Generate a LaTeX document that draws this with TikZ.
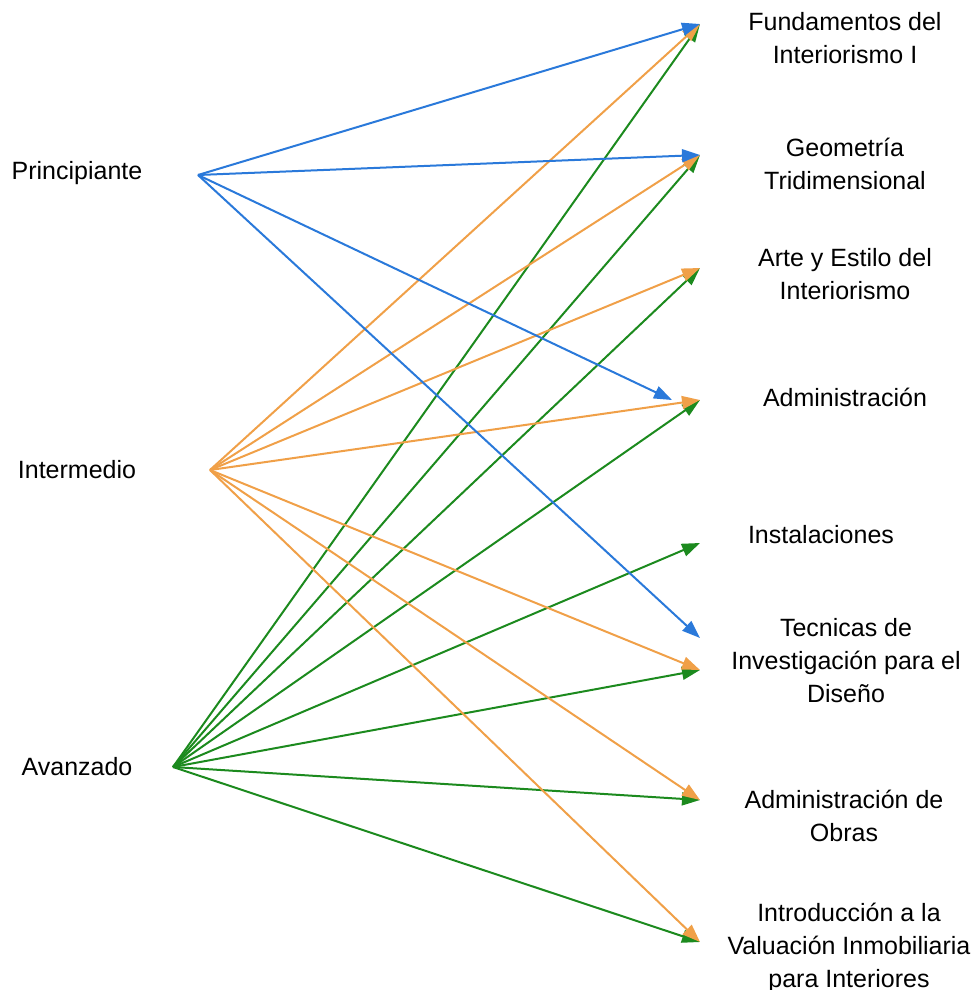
\documentclass[tikz,border=0pt]{standalone}
\usepackage{fontspec}
\setmainfont{Liberation Sans}
\usetikzlibrary{arrows.meta}
\definecolor{nivblue}{RGB}{42,121,218}
\definecolor{nivorange}{RGB}{240,160,72}
\definecolor{nivgreen}{RGB}{28,138,30}

\begin{document}
\begin{tikzpicture}[x=0.5pt,y=-0.5pt,line width=1pt,
            every edge/.style={draw,-{Triangle[length=9pt,width=6.5pt]}},
            level/.style={font=\fontsize{12.5}{16.5}\selectfont},
            course/.style={font=\fontsize{12.5}{16.5}\selectfont,align=center}]
            \useasboundingbox (0,0) rectangle (972,990);

            \node[level] (prin) at (77,173) {Principiante};
            \node[level] (inter) at (77,470) {Intermedio};
            \node[level] (avan) at (77,767) {Avanzado};
            \coordinate (p) at (198,175);
            \coordinate (i) at (210,470);
            \coordinate (a) at (173,767);

            \node[course] (fund) at (845,38) {Fundamentos del\\Interiorismo I};
            \node[course] (geom) at (845,164) {Geometría\\Tridimensional};
            \node[course] (arte) at (845,274) {Arte y Estilo del\\Interiorismo};
            \node[course] (adm) at (845,397) {Administración};
            \node[course] (inst) at (821,535) {Instalaciones};
            \node[course] (tec) at (846,661) {Tecnicas de\\Investigación para el\\Diseño};
            \node[course] (obras) at (844,816) {Administración de\\Obras};
            \node[course] (valu) at (849,948) {Introducción a la\\Valuación Inmobiliaria\\para Interiores};

            \coordinate (t1) at (700,24);
            \coordinate (t2) at (700,155);
            \coordinate (t3) at (700,268);
            \coordinate (t4) at (700,400);
            \coordinate (t4b) at (672,400);
            \coordinate (t5) at (700,543);
            \coordinate (t6) at (700,670);
            \coordinate (t6b) at (700,638);
            \coordinate (t7) at (700,800);
            \coordinate (t8) at (700,942);

            % avanzado
            \path[color=nivgreen]
                  (a) edge (t1)  (a) edge (t2)  (a) edge (t3)  (a) edge (t4)
                  (a) edge (t5)  (a) edge (t6)  (a) edge (t7)  (a) edge (t8);
            % intermedio
            \path[color=nivorange]
                  (i) edge (t1)  (i) edge (t2)  (i) edge (t3)  (i) edge (t4)
                  (i) edge (t6)  (i) edge (t7)  (i) edge (t8);
            % principiante
            \path[color=nivblue]
                  (p) edge (t1)  (p) edge (t2)  (p) edge (t4b)  (p) edge (t6b);
\end{tikzpicture}
\end{document}
